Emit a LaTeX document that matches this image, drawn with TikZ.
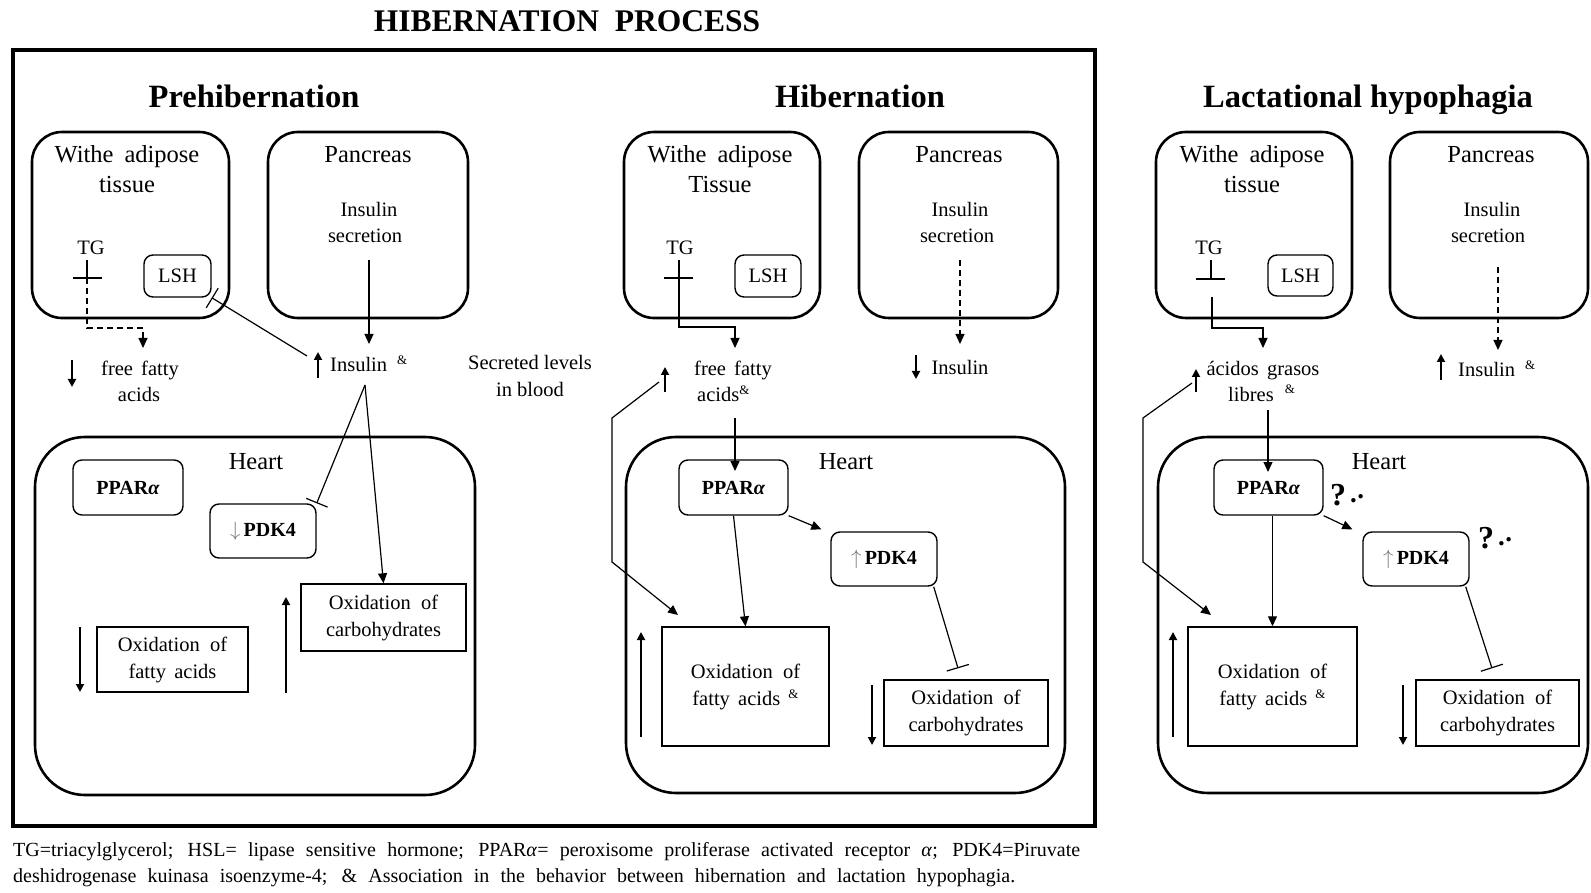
\documentclass[tikz,border=0pt]{standalone}
\usepackage{fontspec}
\setmainfont{Liberation Serif}
\usetikzlibrary{arrows.meta,fit,calc}

\newcommand\myTitle{\fontsize{31.5}{36}\selectfont\bfseries}
\newcommand\myHead{\fontsize{32.5}{38}\selectfont\bfseries}
\newcommand\myOrg{\fontsize{24.5}{30}\selectfont}
\newcommand\mySm{\fontsize{20.5}{27}\selectfont}
\newcommand\myBx{\fontsize{20}{24}\selectfont\bfseries}
\newcommand\myCap{\fontsize{20}{23}\selectfont}
\newcommand\myamp{\raisebox{7pt}{\fontsize{13}{14}\selectfont\&}}
\newcommand\mydn{{\color{black!55}\mdseries$\downarrow$}}
\newcommand\myup{{\color{black!55}\mdseries$\uparrow$}}
\newcommand\myQ{{\fontsize{32}{36}\selectfont\bfseries ?}\hspace{4pt}{\fontsize{27}{28}\selectfont\bfseries\raisebox{3pt}{.}\hspace{0.5pt}\raisebox{7pt}{.}}}

\tikzset{
  frame/.style={draw, line width=3.8pt, inner sep=0pt},
  organ/.style={draw, line width=2.6pt, rounded corners=30pt, inner sep=0pt},
  heartbox/.style={draw, line width=2.6pt, rounded corners=50pt, inner sep=0pt},
  sbox/.style={draw, line width=1.4pt, rounded corners=9pt, inner sep=0pt},
  obox/.style={draw, line width=1.4pt, inner sep=0pt, align=center, font=\mySm},
  lbl/.style={inner sep=0pt, anchor=base},
  conn/.style={line width=1.2pt},
  arr/.style={-{Triangle[length=10pt,width=9pt]}},
  ind/.style={line width=1.8pt, -{Triangle[length=8pt,width=8pt]}},
  inh/.style={-{Bar[width=23pt,line width=1.2pt]}},
  dsh/.style={dash pattern=on 6pt off 4pt},
}

\begin{document}
\begin{tikzpicture}[x=1pt,y=-1pt]
\useasboundingbox (0,0) rectangle (1591,893);

% ---------- title and frame ----------
\node[lbl, font=\myTitle] (title) at (567,32) {HIBERNATION\hspace{0.5em}PROCESS};
\node[frame, fit={(13,50) (1095,826)}] (frame) {};

\node[lbl, font=\myHead] (h1) at (254,108) {Prehibernation};
\node[lbl, font=\myHead] (h2) at (860,108) {Hibernation};
\node[lbl, font=\myHead] (h3) at (1368,108) {Lactational hypophagia};

% ---------- organ boxes ----------
\node[organ, fit={(32,132) (229,318)}] (wat1) {};
\node[organ, fit={(268,132) (468,318)}] (pan1) {};
\node[organ, fit={(624,132) (820,318)}] (wat2) {};
\node[organ, fit={(859,132) (1058,318)}] (pan2) {};
\node[organ, fit={(1156,132) (1352,318)}] (wat3) {};
\node[organ, fit={(1390,132) (1588,318)}] (pan3) {};

\node[heartbox, fit={(35,437) (475,795)}] (heart1) {};
\node[heartbox, fit={(626,437) (1065,793)}] (heart2) {};
\node[heartbox, fit={(1158,437) (1588,793)}] (heart3) {};

% ---------- column 1 : Prehibernation ----------
\node[lbl, font=\myOrg] (wat1a) at (127,163) {Withe\hspace{0.45em}adipose};
\node[lbl, font=\myOrg] (wat1b) at (127,193) {tissue};
\node[lbl, font=\myOrg] (pan1t) at (368,163) {Pancreas};
\node[lbl, font=\mySm] (sec1a) at (369,217) {Insulin};
\node[lbl, font=\mySm] (sec1b) at (365,243) {secretion};
\node[lbl, font=\mySm] (tg1) at (91,255) {TG};
\node[sbox, font=\mySm, minimum width=67pt, minimum height=42pt] (lsh1) at (177.5,276) {LSH};
\node[lbl, font=\mySm] (ffa1a) at (140,376) {free\hspace{0.4em}fatty};
\node[lbl, font=\mySm] (ffa1b) at (139,402) {acids};
\node[lbl, font=\mySm, anchor=base west] (ins1) at (330,372) {Insulin\hspace{10pt}\myamp};
\node[lbl, font=\mySm] (bl1) at (530,370) {Secreted levels};
\node[lbl, font=\mySm] (bl2) at (530,396) {in blood};
\node[lbl, font=\myOrg] (heart1t) at (256,469) {Heart};
\node[sbox, font=\myBx, minimum width=110pt, minimum height=55pt] (ppar1) at (128,487.5) {PPAR\textit{α}};
\node[sbox, font=\myBx, minimum width=106pt, minimum height=54pt] (pdk1) at (263,531) {\mydn\,PDK4};
\node[obox, minimum width=165pt, minimum height=67pt] (oxc1) at (383.5,617.5) {Oxidation\hspace{0.5em}of\\carbohydrates};
\node[obox, minimum width=151pt, minimum height=65pt] (oxf1) at (172.5,659.5) {Oxidation\hspace{0.5em}of\\fatty\hspace{0.4em}acids};

\coordinate (tg1t) at (87,260);
\coordinate (tg1c) at (87,278);
\coordinate (tg1l) at (73,278);
\coordinate (tg1r) at (102,278);
\coordinate (ffa1turn) at (143,328);
\coordinate (ffa1in) at (143,348);
\draw[conn] (tg1t) -- (tg1c);
\draw[conn] (tg1l) -- (tg1r);
\draw[conn, dsh, arr] (tg1c) |- (ffa1turn) -- (ffa1in);

\coordinate (pan1s) at (369,260);
\coordinate (pan1e) at (369,344);
\draw[conn, arr] (pan1s) -- (pan1e);
\coordinate (ins1up) at (307,356);
\draw[conn, inh] (ins1up) -- (lsh1.south east);
\coordinate (ins1bot) at (365,385);
\draw[conn, inh] (ins1bot) -- (pdk1.north east);
\draw[conn, arr] (ins1bot) -- (oxc1.north);

\coordinate (i1a) at (72,360);   \coordinate (i1b) at (72,387);
\coordinate (i2a) at (318,378);  \coordinate (i2b) at (318,352);
\coordinate (i3a) at (80,627);   \coordinate (i3b) at (80,692);
\coordinate (i4a) at (286,693);  \coordinate (i4b) at (286,597);
\draw[ind] (i1a) -- (i1b);
\draw[ind] (i2a) -- (i2b);
\draw[ind] (i3a) -- (i3b);
\draw[ind] (i4a) -- (i4b);

% ---------- column 2 : Hibernation ----------
\node[lbl, font=\myOrg] (wat2a) at (720,163) {Withe\hspace{0.45em}adipose};
\node[lbl, font=\myOrg] (wat2b) at (720,193) {Tissue};
\node[lbl, font=\myOrg] (pan2t) at (959,163) {Pancreas};
\node[lbl, font=\mySm] (sec2a) at (960,217) {Insulin};
\node[lbl, font=\mySm] (sec2b) at (957,243) {secretion};
\node[lbl, font=\mySm] (tg2) at (680,255) {TG};
\node[sbox, font=\mySm, minimum width=66pt, minimum height=42pt] (lsh2) at (768,276) {LSH};
\node[lbl, font=\mySm] (ffa2a) at (733,376) {free\hspace{0.4em}fatty};
\node[lbl, font=\mySm, anchor=base west] (ffa2b) at (697,402) {acids\myamp};
\node[lbl, font=\mySm] (ins2) at (960,374) {Insulin};
\node[lbl, font=\myOrg] (heart2t) at (846,469) {Heart};
\node[sbox, font=\myBx, minimum width=109pt, minimum height=55pt] (ppar2) at (733.5,487.5) {PPAR\textit{α}};
\node[sbox, font=\myBx, minimum width=106pt, minimum height=54pt] (pdk2) at (884,559) {\myup\,PDK4};
\node[obox, minimum width=167pt, minimum height=119pt] (oxf2) at (745.5,686.5) {Oxidation\hspace{0.5em}of\\fatty\hspace{0.4em}acids\hspace{0.4em}\myamp};
\node[obox, minimum width=164pt, minimum height=66pt] (oxc2) at (966,713) {Oxidation\hspace{0.5em}of\\carbohydrates};

\coordinate (tg2t) at (679,260);
\coordinate (tg2c) at (679,278);
\coordinate (tg2l) at (664,278);
\coordinate (tg2r) at (693,278);
\coordinate (ffa2turn) at (735,327);
\coordinate (ffa2in) at (735,348);
\draw[conn] (tg2t) -- (tg2c);
\draw[conn] (tg2l) -- (tg2r);
\draw[conn, arr] (tg2c) |- (ffa2turn) -- (ffa2in);

\coordinate (pan2s) at (960,260);
\coordinate (pan2e) at (960,344);
\draw[conn, dsh, arr] (pan2s) -- (pan2e);

\coordinate (ffa2o) at (735,418);
\coordinate (ppar2in) at (735,471);
\draw[conn, arr] (ffa2o) -- (ppar2in);
\draw[conn, arr] (ppar2.south east) -- ([shift={(-9pt,2pt)}]pdk2.north west);
\draw[conn, arr] (ppar2.south) -- (oxf2.north);
\draw[conn, inh] ([xshift=-4pt]pdk2.south east) -- ([shift={(-8pt,11pt)}]oxc2.north);

\coordinate (l2a) at (659,382);
\coordinate (l2b) at (612,418);
\coordinate (l2c) at (612,562);
\coordinate (l2d) at (678,615);
\draw[conn, arr] (l2a) -- (l2b) -- (l2c) -- (l2d);

\coordinate (j1a) at (916,355);  \coordinate (j1b) at (916,379);
\coordinate (j2a) at (665,392);  \coordinate (j2b) at (665,367);
\coordinate (j3a) at (641,737);  \coordinate (j3b) at (641,632);
\coordinate (j4a) at (872,685);  \coordinate (j4b) at (872,745);
\draw[ind] (j1a) -- (j1b);
\draw[ind] (j2a) -- (j2b);
\draw[ind] (j3a) -- (j3b);
\draw[ind] (j4a) -- (j4b);

% ---------- column 3 : Lactational hypophagia ----------
\node[lbl, font=\myOrg] (wat3a) at (1252,163) {Withe\hspace{0.45em}adipose};
\node[lbl, font=\myOrg] (wat3b) at (1252,193) {tissue};
\node[lbl, font=\myOrg] (pan3t) at (1491,163) {Pancreas};
\node[lbl, font=\mySm] (sec3a) at (1492,217) {Insulin};
\node[lbl, font=\mySm] (sec3b) at (1488,243) {secretion};
\node[lbl, font=\mySm] (tg3) at (1209,255) {TG};
\node[sbox, font=\mySm, minimum width=65pt, minimum height=41pt] (lsh3) at (1300.5,275.5) {LSH};
\node[lbl, font=\mySm] (afl3a) at (1263,375) {ácidos\hspace{0.4em}grasos};
\node[lbl, font=\mySm, anchor=base west] (afl3b) at (1228,401) {libres\hspace{11pt}\myamp};
\node[lbl, font=\mySm, anchor=base west] (ins3) at (1458,377) {Insulin\hspace{10pt}\myamp};
\node[lbl, font=\myOrg] (heart3t) at (1379,469) {Heart};
\node[sbox, font=\myBx, minimum width=109pt, minimum height=55pt] (ppar3) at (1268.5,487.5) {PPAR\textit{α}};
\node[sbox, font=\myBx, minimum width=106pt, minimum height=54pt] (pdk3) at (1416,559) {\myup\,PDK4};
\node[obox, minimum width=169pt, minimum height=119pt] (oxf3) at (1272.5,686.5) {Oxidation\hspace{0.5em}of\\fatty\hspace{0.4em}acids\hspace{0.4em}\myamp};
\node[obox, minimum width=163pt, minimum height=66pt] (oxc3) at (1497.5,713) {Oxidation\hspace{0.5em}of\\carbohydrates};
\node[inner sep=0pt, anchor=base west] (q1) at (1330,505) {\myQ};
\node[inner sep=0pt, anchor=base west] (q2) at (1478,548) {\myQ};

\coordinate (tg3t) at (1211,260);
\coordinate (tg3c) at (1211,279);
\coordinate (tg3l) at (1196,279);
\coordinate (tg3r) at (1225,279);
\coordinate (tg3s) at (1212,297);
\coordinate (afl3turn) at (1263,328);
\coordinate (afl3in) at (1263,348);
\draw[conn] (tg3t) -- (tg3c);
\draw[conn] (tg3l) -- (tg3r);
\draw[conn, arr] (tg3s) |- (afl3turn) -- (afl3in);

\coordinate (pan3s) at (1498,267);
\coordinate (pan3e) at (1498,350);
\draw[conn, dsh, arr] (pan3s) -- (pan3e);

\coordinate (afl3o) at (1268,410);
\coordinate (ppar3in) at (1268,472);
\draw[conn, arr] (afl3o) -- (ppar3in);
\draw[conn, arr] (ppar3.south east) -- ([shift={(-10pt,2pt)}]pdk3.north west);
\draw[conn, arr] (ppar3.south -| oxf3.north) -- (oxf3.north);
\draw[conn, inh] ([xshift=-4pt]pdk3.south east) -- ([shift={(-5.5pt,11pt)}]oxc3.north);

\coordinate (l3a) at (1192,383);
\coordinate (l3b) at (1143,418);
\coordinate (l3c) at (1143,562);
\coordinate (l3d) at (1211,615);
\draw[conn, arr] (l3a) -- (l3b) -- (l3c) -- (l3d);

\coordinate (k1a) at (1441,380); \coordinate (k1b) at (1441,354);
\coordinate (k2a) at (1196,392); \coordinate (k2b) at (1196,369);
\coordinate (k3a) at (1173,737); \coordinate (k3b) at (1173,632);
\coordinate (k4a) at (1403,685); \coordinate (k4b) at (1403,745);
\draw[ind] (k1a) -- (k1b);
\draw[ind] (k2a) -- (k2b);
\draw[ind] (k3a) -- (k3b);
\draw[ind] (k4a) -- (k4b);

% ---------- caption ----------
\node[inner sep=0pt, anchor=base west, font=\myCap] (cap1) at (13,856) {\makebox[1067pt][s]{TG=triacylglycerol; HSL= lipase sensitive hormone; PPAR\textit{α}= peroxisome proliferase activated receptor \textit{α}; PDK4=Piruvate}};
\node[inner sep=0pt, anchor=base west, font=\myCap] (cap2) at (13,882) {\makebox[1002pt][s]{deshidrogenase kuinasa isoenzyme-4; \& Association in the behavior between hibernation and lactation hypophagia.}};
\end{tikzpicture}
\end{document}
